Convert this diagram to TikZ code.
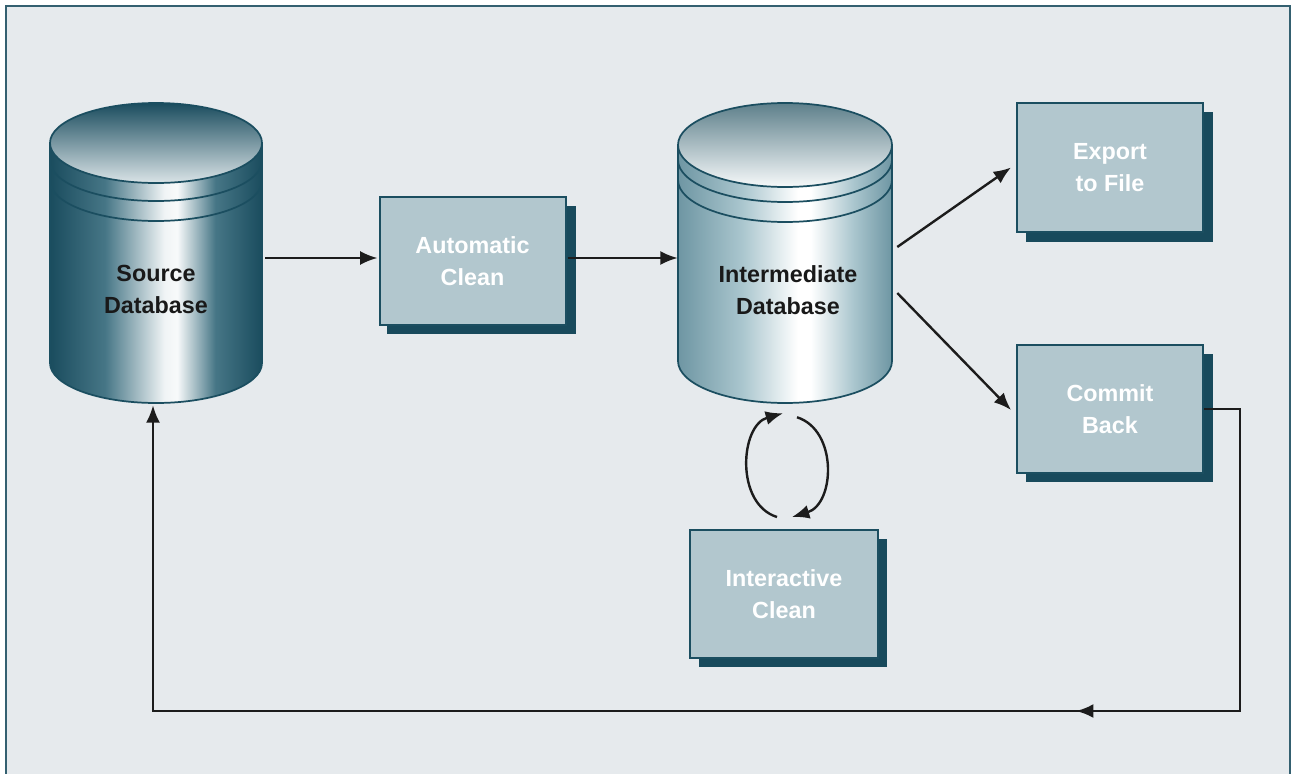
\documentclass[tikz,border=0pt]{standalone}
\usepackage{fontspec}
\setmainfont{Liberation Sans}
\usetikzlibrary{arrows.meta,calc,decorations.markings}
\definecolor{bgc}{RGB}{230,234,237}
\definecolor{framec}{RGB}{52,96,112}
\definecolor{darkteal}{RGB}{27,78,96}
\definecolor{shadowc}{RGB}{24,74,92}
\definecolor{boxfill}{RGB}{178,199,206}
\definecolor{linec}{RGB}{28,28,28}
\definecolor{srcedge}{RGB}{26,76,94}
\definecolor{srcmid}{RGB}{70,118,134}
\definecolor{intedge}{RGB}{110,150,163}
\definecolor{intmid}{RGB}{170,198,206}
\pgfdeclarehorizontalshading{srcbody}{100bp}{color(0bp)=(srcedge); color(25bp)=(srcedge); color(38bp)=(srcmid); color(52bp)=(white!92!srcmid); color(55bp)=(white!96!srcmid); color(64bp)=(srcmid); color(75bp)=(srcedge); color(100bp)=(srcedge)}
\pgfdeclarehorizontalshading{intbody}{100bp}{color(0bp)=(intedge); color(25bp)=(intedge); color(40bp)=(intmid); color(53bp)=(white); color(56bp)=(white); color(66bp)=(intmid); color(75bp)=(intedge); color(100bp)=(intedge)}
\tikzset{
  tipstyle/.style={-{Latex[length=13pt,width=10.5pt]}},
  arr/.style={draw=linec, line width=1.8pt, tipstyle},
  procbox/.style={draw=darkteal, line width=1.5pt, fill=boxfill, minimum width=186*0.75pt, minimum height=128*0.75pt, align=center, text=white, font=\bfseries\fontsize{17.5}{24}\selectfont, inner sep=0pt},
  dblabel/.style={align=center, text=black!90, font=\bfseries\fontsize{17.5}{24}\selectfont, inner sep=0pt},
  cylarea/.style={minimum width=212*0.75pt, minimum height=300*0.75pt, inner sep=0pt},
  cylline/.style={draw=darkteal, line width=1.3pt},
}
\begin{document}
\begin{tikzpicture}[x=0.75pt,y=-0.75pt]
\useasboundingbox (0,0) rectangle (1292,774);
% background and frame
\fill[bgc] (6,6) rectangle (1290,774);
\draw[framec, line width=1.6pt] (6,774) -- (6,6) -- (1290,6) -- (1290,774);

% ---------- Source database cylinder ----------
\node[cylarea] (src) at (156,253) {};
\shade[shading=srcbody] (50,143) -- (50,363) arc (180:0:106 and 40) -- (262,143) -- cycle;
\draw[cylline] (50,143) -- (50,363) arc (180:0:106 and 40) -- (262,143);
\draw[cylline] (50,161) arc (180:0:106 and 40);
\draw[cylline] (50,181) arc (180:0:106 and 40);
\shade[top color=srcedge, bottom color=white!80!srcmid] (156,143) ellipse (106 and 40);
\draw[cylline] (156,143) ellipse (106 and 40);
\node[dblabel] (srclabel) at (156,289) {Source\\Database};

% ---------- Intermediate database cylinder ----------
\node[cylarea] (ib) at (785,253) {};
\shade[shading=intbody] (678,145) -- (678,361) arc (180:0:107 and 42) -- (892,145) -- cycle;
\draw[cylline] (678,145) -- (678,361) arc (180:0:107 and 42) -- (892,145);
\draw[cylline] (678,160) arc (180:0:107 and 42);
\draw[cylline] (678,180) arc (180:0:107 and 42);
\shade[top color=intedge!85!black, bottom color=white!90!intmid] (785,145) ellipse (107 and 42);
\draw[cylline] (785,145) ellipse (107 and 42);
\node[dblabel] (iblabel) at (788,290) {Intermediate\\Database};

% ---------- process boxes ----------
\fill[shadowc] (387,206) rectangle (576,334);
\node[procbox] (ac) at (472.5,261) {Automatic\\Clean};
\fill[shadowc] (1026,112) rectangle (1213,242);
\node[procbox, minimum height=129*0.75pt] (ex) at (1110,167.5) {Export\\to File};
\fill[shadowc] (1026,354) rectangle (1213,482);
\node[procbox] (cb) at (1110,409) {Commit\\Back};
\fill[shadowc] (699,539) rectangle (887,667);
\node[procbox, minimum width=188*0.75pt] (ic) at (784,594) {Interactive\\Clean};

% ---------- connectors ----------
\draw[arr] ($(src.east |- ac.west)+(3,-3)$) -- ($(ac.west)+(-1,-3)$);
\draw[arr] ($(ac.east)+(1,-3)$) -- ($(ib.west |- ac.east)+(-1,-3)$);
\draw[arr] ($(ib.east)+(6,-6)$) -- ($(ex.west)+(-5,0)$);
\draw[arr] ($(ib.east)+(6,40)$) -- ($(cb.west)+(-5,1)$);
\coordinate (rc) at (1240,711);
\draw[arr, postaction={decorate}, decoration={markings, mark=at position 0.29 with {\arrow{Latex[length=13pt,width=10.5pt]}}}]
  (cb.east) -| (rc) -| ($(src.south)+(-3,2)$);
% loop between intermediate database and interactive clean
\draw[arr] ($(ic.north)+(-7,-12)$) .. controls +(-42,-13) and +(-43,12) .. ($(ib.south)+(-2,10)$);
\draw[arr] ($(ib.south)+(12,14)$) .. controls +(41,13) and +(43,-13) .. ($(ic.north)+(8,-12)$);
\end{tikzpicture}
\end{document}
